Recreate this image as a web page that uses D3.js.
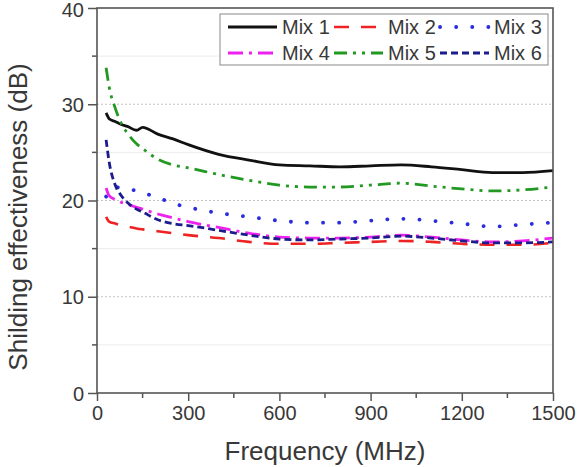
<!DOCTYPE html>
<html>
<head>
<meta charset="utf-8">
<script src="https://cdn.jsdelivr.net/npm/d3@7"></script>
<style>
  html, body { margin: 0; padding: 0; background: #fff; }
  svg { display: block; font-family: "Liberation Sans", Arial, sans-serif; }
</style>
</head>
<body>
<svg id="chart" width="577" height="467"></svg>
<script>
// ---- data ----
const frequencies = [30, 40, 60, 80, 100, 130, 150, 200, 250, 300, 400, 500, 600, 700, 800, 900, 1000, 1100, 1200, 1300, 1400, 1500];
const mix1 = [29.1, 28.5, 28.2, 27.9, 27.7, 27.3, 27.6, 26.9, 26.4, 25.8, 24.8, 24.2, 23.7, 23.6, 23.5, 23.6, 23.7, 23.5, 23.2, 22.9, 22.9, 23.1];
const mix2 = [18.3, 17.8, 17.6, 17.4, 17.3, 17.1, 17.0, 16.8, 16.6, 16.4, 16.1, 15.7, 15.5, 15.5, 15.6, 15.7, 15.8, 15.7, 15.5, 15.4, 15.4, 15.6];
const mix3 = [20.4, 20.9, 21.4, 21.3, 21.2, 21.0, 20.8, 20.3, 19.7, 19.3, 18.7, 18.3, 17.9, 17.7, 17.7, 17.9, 18.1, 17.9, 17.6, 17.3, 17.5, 17.7];
const mix4 = [21.3, 20.5, 20.1, 19.8, 19.6, 19.3, 19.1, 18.6, 18.2, 17.8, 17.2, 16.6, 16.2, 16.1, 16.1, 16.2, 16.4, 16.2, 15.9, 15.7, 15.8, 16.1];
const mix5 = [33.8, 31.8, 29.6, 28.0, 27.0, 25.9, 25.4, 24.3, 23.7, 23.4, 22.7, 22.1, 21.6, 21.4, 21.4, 21.6, 21.8, 21.5, 21.2, 21.0, 21.1, 21.4];
const mix6 = [26.3, 24.0, 21.6, 20.5, 19.8, 19.1, 18.8, 18.0, 17.6, 17.4, 16.9, 16.4, 16.0, 15.9, 16.0, 16.1, 16.3, 16.1, 15.8, 15.6, 15.6, 15.7];
const seriesNames = ["Mix 1", "Mix 2", "Mix 3", "Mix 4", "Mix 5", "Mix 6"];
const xTicks = [0, 300, 600, 900, 1200, 1500];
const yTicks = [0, 10, 20, 30, 40];
const xTitle = "Frequency (MHz)";
const yTitle = "Shilding effectiveness (dB)";

// ---- styles ----
const styles = [
  { color: "#111111", dash: null,               width: 2.8, cap: "butt" },
  { color: "#ee2222", dash: "15,12",            width: 2.6, cap: "butt" },
  { color: "#2b2be0", dash: "0.1,16",           width: 3.8, cap: "round" },
  { color: "#ee22ee", dash: "15,6,3,6",         width: 2.8, cap: "butt" },
  { color: "#229922", dash: "13,6,3,6,3,6",     width: 2.8, cap: "butt" },
  { color: "#1c1c8c", dash: "7,4",              width: 2.8, cap: "butt" }
];
const allSeries = [mix1, mix2, mix3, mix4, mix5, mix6];

const svg = d3.select("#chart");
const pLeft = 97, pRight = 553, pTop = 8, pBottom = 393;
const x = d3.scaleLinear().domain([0, 1500]).range([pLeft, pRight]);
const y = d3.scaleLinear().domain([0, 40]).range([pBottom, pTop]);
const textColor = "#383838";
const axisColor = "#555";

// grid
const g = svg.append("g");
g.selectAll("line.minor").data([5, 15, 25, 35]).join("line").attr("class", "minor")
  .attr("x1", pLeft).attr("x2", pRight)
  .attr("y1", d => y(d)).attr("y2", d => y(d))
  .attr("stroke", "#ececec").attr("stroke-width", 1);
g.selectAll("line.major").data([10, 20, 30]).join("line").attr("class", "major")
  .attr("x1", pLeft).attr("x2", pRight)
  .attr("y1", d => y(d)).attr("y2", d => y(d))
  .attr("stroke", "#c4c4c4").attr("stroke-width", 1.2).attr("stroke-dasharray", "2,2");

// lines
const line = d3.line().x((d, i) => x(frequencies[i])).y(d => y(d)).curve(d3.curveMonotoneX);
allSeries.forEach((s, i) => {
  const st = styles[i];
  svg.append("path").datum(s)
    .attr("d", line)
    .attr("fill", "none")
    .attr("stroke", st.color)
    .attr("stroke-width", st.width)
    .attr("stroke-linecap", st.cap)
    .attr("stroke-dasharray", st.dash);
});

// axes
const xAxis = d3.axisBottom(x).tickValues(xTicks).tickSize(8).tickPadding(5).tickFormat(d3.format("d"));
const yAxis = d3.axisLeft(y).tickValues(yTicks).tickSize(9).tickPadding(4);
const gx = svg.append("g").attr("transform", `translate(0,${pBottom})`).call(xAxis);
const gy = svg.append("g").attr("transform", `translate(${pLeft},0)`).call(yAxis);
[gx, gy].forEach(a => {
  a.select(".domain").remove();
  a.selectAll(".tick line").attr("stroke", axisColor).attr("stroke-width", 1.5);
  a.selectAll(".tick text").attr("fill", textColor).style("font-size", "20px")
    .style("font-family", "'Liberation Sans', Arial, sans-serif");
});
gy.selectAll(".tick text").attr("dy", "0.36em");
gy.selectAll(".tick").filter(d => d === 40).select("text").attr("dy", "0.42em");
// minor ticks
svg.append("g").selectAll("line").data([150, 450, 750, 1050, 1350]).join("line")
  .attr("x1", d => x(d)).attr("x2", d => x(d)).attr("y1", pBottom).attr("y2", pBottom + 5)
  .attr("stroke", axisColor).attr("stroke-width", 1.5);
svg.append("g").selectAll("line").data([5, 15, 25, 35]).join("line")
  .attr("x1", pLeft - 5).attr("x2", pLeft).attr("y1", d => y(d)).attr("y2", d => y(d))
  .attr("stroke", axisColor).attr("stroke-width", 1.5);

// frame
svg.append("rect").attr("x", pLeft).attr("y", pTop).attr("width", pRight - pLeft).attr("height", pBottom - pTop)
  .attr("fill", "none").attr("stroke", axisColor).attr("stroke-width", 1.6);

// titles
svg.append("text").attr("x", (pLeft + pRight) / 2).attr("y", 460).attr("text-anchor", "middle")
  .attr("fill", textColor).style("font-size", "26px").text(xTitle);
svg.append("text").attr("transform", "translate(27,217) rotate(-90)").attr("text-anchor", "middle")
  .attr("fill", textColor).style("font-size", "26px").text(yTitle);

// legend
const lg = svg.append("g");
lg.append("rect").attr("x", 220).attr("y", 14).attr("width", 328).attr("height", 51)
  .attr("fill", "#fff").attr("stroke", "#888").attr("stroke-width", 1);
seriesNames.forEach((name, i) => {
  const col = i % 3, row = Math.floor(i / 3);
  const lx = 228 + col * 106, ly = 27 + row * 26;
  const st = styles[i];
  lg.append("line").attr("x1", lx).attr("x2", lx + 49).attr("y1", ly).attr("y2", ly)
    .attr("stroke", st.color).attr("stroke-width", st.width)
    .attr("stroke-linecap", st.cap).attr("stroke-dasharray", st.dash);
  lg.append("text").attr("x", lx + 54).attr("y", ly).attr("dy", "0.36em")
    .attr("fill", textColor).style("font-size", "20px").text(name);
});
</script>
</body>
</html>
